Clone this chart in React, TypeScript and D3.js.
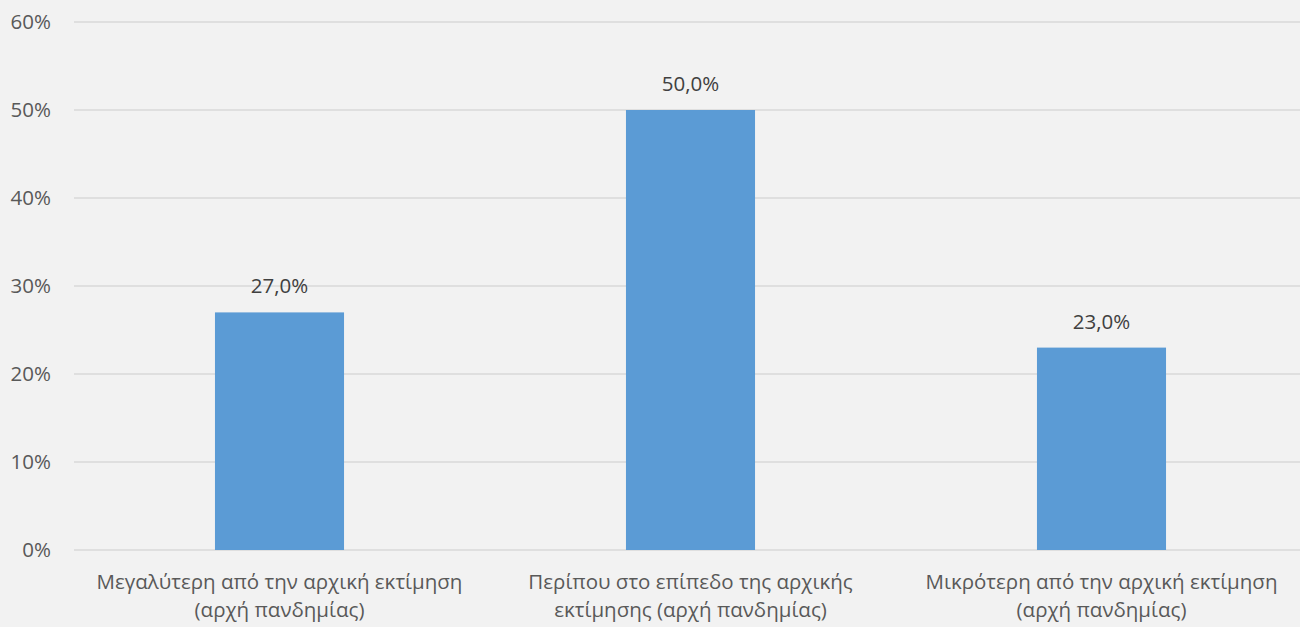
import React from "react";
import * as d3 from "d3";

const categories: string[][] = [
  ["Μεγαλύτερη από την αρχική εκτίμηση", "(αρχή πανδημίας)"],
  ["Περίπου στο επίπεδο της αρχικής", "εκτίμησης (αρχή πανδημίας)"],
  ["Μικρότερη από την αρχική εκτίμηση", "(αρχή πανδημίας)"],
];
const values: number[] = [0.27, 0.5, 0.23];
const yTicks: number[] = [0, 0.1, 0.2, 0.3, 0.4, 0.5, 0.6];

const W = 1300;
const H = 627;
const FONT = "'Open Sans', 'Noto Sans', sans-serif";
const TEXT = "#595959";
const FS = 20.5;

export default function App() {
  const x = d3
    .scaleBand<number>()
    .domain(d3.range(categories.length))
    .range([74, 1307])
    .paddingInner(0.686)
    .paddingOuter(0.343);
  const y = d3.scaleLinear().domain([0, 0.6]).range([550, 22]);
  const fmtTick = (v: number) => `${Math.round(v * 100)}%`;
  const fmtVal = (v: number) => `${(v * 100).toFixed(1).replace(".", ",")}%`;

  return (
    <svg
      width={W}
      height={H}
      style={{ position: "fixed", left: 0, top: 0, background: "#f2f2f2" }}
      fontFamily={FONT}
    >
      <rect x={0} y={0} width={W} height={H} fill="#f2f2f2" />
      {yTicks.map((t) => (
        <g key={t}>
          <line x1={74} x2={W} y1={y(t)} y2={y(t)} stroke="#d9d9d9" strokeWidth={1.5} />
          <text x={51} y={y(t)} dy="0.35em" textAnchor="end" fontSize={FS} fill={TEXT}>
            {fmtTick(t)}
          </text>
        </g>
      ))}
      {values.map((v, i) => (
        <g key={i}>
          <rect x={x(i)} y={y(v)} width={x.bandwidth()} height={y(0) - y(v)} fill="#5b9bd5" />
          <text
            x={(x(i) as number) + x.bandwidth() / 2}
            y={y(v) - 19}
            textAnchor="middle"
            fontSize={FS}
            fill="#404040"
          >
            {fmtVal(v)}
          </text>
          {categories[i].map((line, j) => (
            <text
              key={j}
              x={(x(i) as number) + x.bandwidth() / 2}
              y={589 + j * 28}
              textAnchor="middle"
              fontSize={FS}
              fill={TEXT}
            >
              {line}
            </text>
          ))}
        </g>
      ))}
    </svg>
  );
}
